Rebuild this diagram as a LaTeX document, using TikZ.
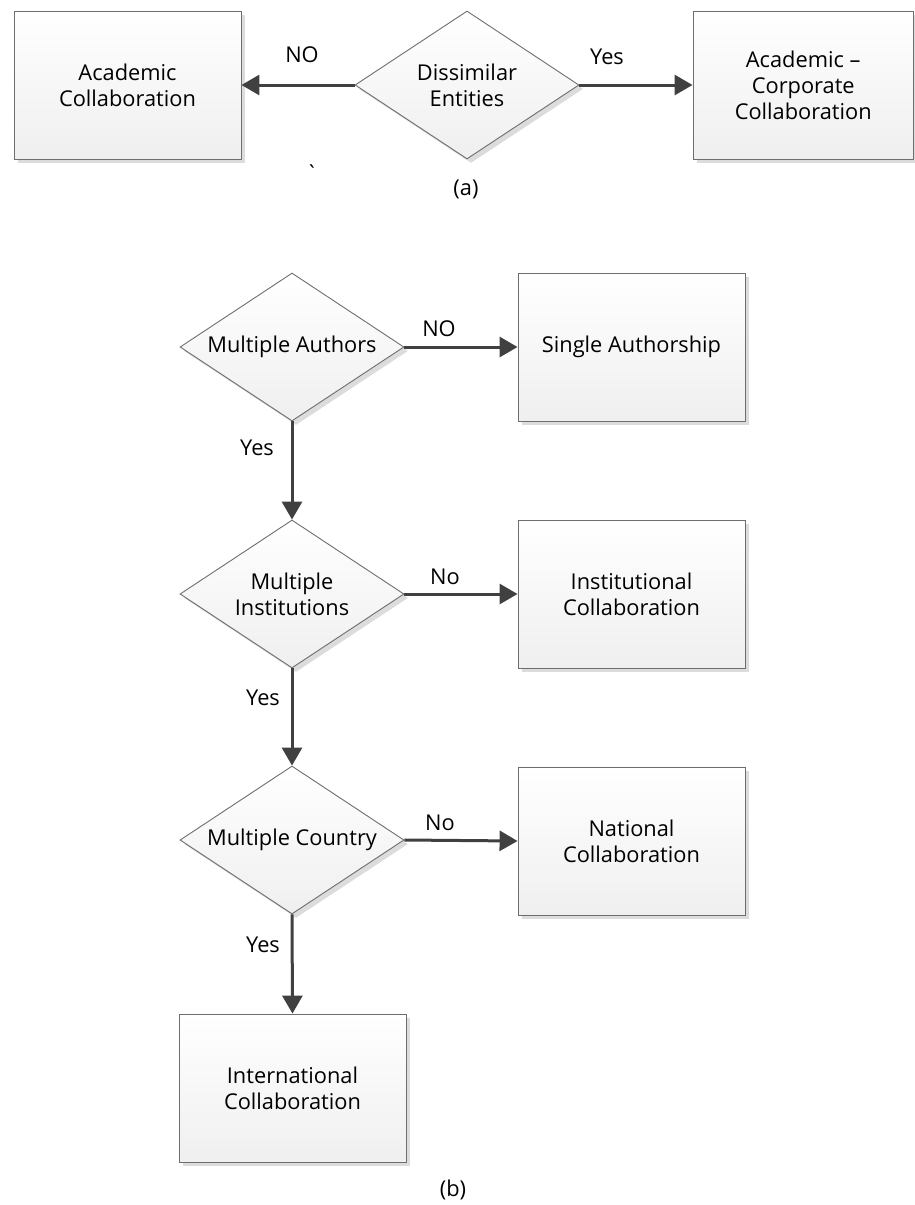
\documentclass[tikz,border=0pt]{standalone}
\usepackage{fontspec}
\setmainfont{Open Sans}
\newfontfamily\rawopen{Open Sans}
\usetikzlibrary{shapes.geometric,arrows.meta,shadows}
\definecolor{arrowgray}{HTML}{404040}
\definecolor{edgegray}{HTML}{6E6E6E}
\definecolor{shadowgray}{HTML}{DCDCDC}
\definecolor{fillbottom}{HTML}{EFEFEF}
\tikzset{
  common/.style={draw=edgegray, line width=0.9pt, top color=white, bottom color=fillbottom,
    inner sep=0pt, align=center, font=\fontsize{21.8}{26}\selectfont,
    drop shadow={shadow xshift=4pt, shadow yshift=-4pt, fill=shadowgray, opacity=1}},
  boxnode/.style={common, rectangle, minimum width=227pt, minimum height=148pt},
  decnode/.style={common, diamond, shape aspect=1.51, minimum width=224pt, minimum height=148pt},
  lbl/.style={font=\fontsize{21.8}{26}\selectfont, inner sep=0pt, text height=15pt, text depth=0pt},
  arr/.style={draw=arrowgray, line width=3pt, -{Triangle[length=18pt,width=20pt]}, arrowgray}
}
\begin{document}
\begin{tikzpicture}[x=1pt,y=-1pt]
\useasboundingbox (0,0) rectangle (914,1205);
% ---- part (a)
\node[decnode] (dis) at (467,85) {Dissimilar\\Entities};
\node[boxnode] (acad) at (127.5,85) {Academic\\Collaboration};
\node[boxnode, minimum width=220.5pt] (corp) at (803.25,85) {Academic –\\Corporate\\Collaboration};
\draw[arr] (dis.west) -- (acad.east);
\draw[arr] (dis.east) -- (corp.west);
\node[lbl] (noa) at (302,55) {NO};
\node[lbl] (yesa) at (607,57) {Yes};
\node[font=\rawopen\fontsize{21.8}{26}\selectfont, inner sep=0pt, anchor=base] (tick) at (312,181) {\symbol{96}};
\node[font=\fontsize{21.8}{26}\selectfont, inner sep=0pt] (capa) at (466,189) {(a)};
% ---- part (b)
\node[decnode] (d1) at (292,347) {Multiple Authors};
\node[decnode] (d2) at (292,594) {Multiple\\Institutions};
\node[decnode] (d3) at (292,840) {Multiple Country};
\node[boxnode] (single) at (631.5,347) {Single Authorship};
\node[boxnode] (inst) at (631.5,594) {Institutional\\Collaboration};
\node[boxnode] (nat) at (631.5,841) {National\\Collaboration};
\node[boxnode] (intl) at (292.5,1088) {International\\Collaboration};
\draw[arr] (d1.east) -- (single.west);
\draw[arr] (d2.east) -- (inst.west);
\draw[arr] (d3.east) -- (nat.west);
\draw[arr] (d1.south) -- (d2.north);
\draw[arr] (d2.south) -- (d3.north);
\draw[arr] (d3.south) -- (intl.north);
\node[lbl] (no1) at (439,329) {NO};
\node[lbl] (no2) at (445,577) {No};
\node[lbl] (no3) at (440,823) {No};
\node[lbl] (yes1) at (257,448) {Yes};
\node[lbl] (yes2) at (263,698) {Yes};
\node[lbl] (yes3) at (263,945) {Yes};
\node[font=\fontsize{21.8}{26}\selectfont, inner sep=0pt] (capb) at (453,1190) {(b)};
\end{tikzpicture}
\end{document}
